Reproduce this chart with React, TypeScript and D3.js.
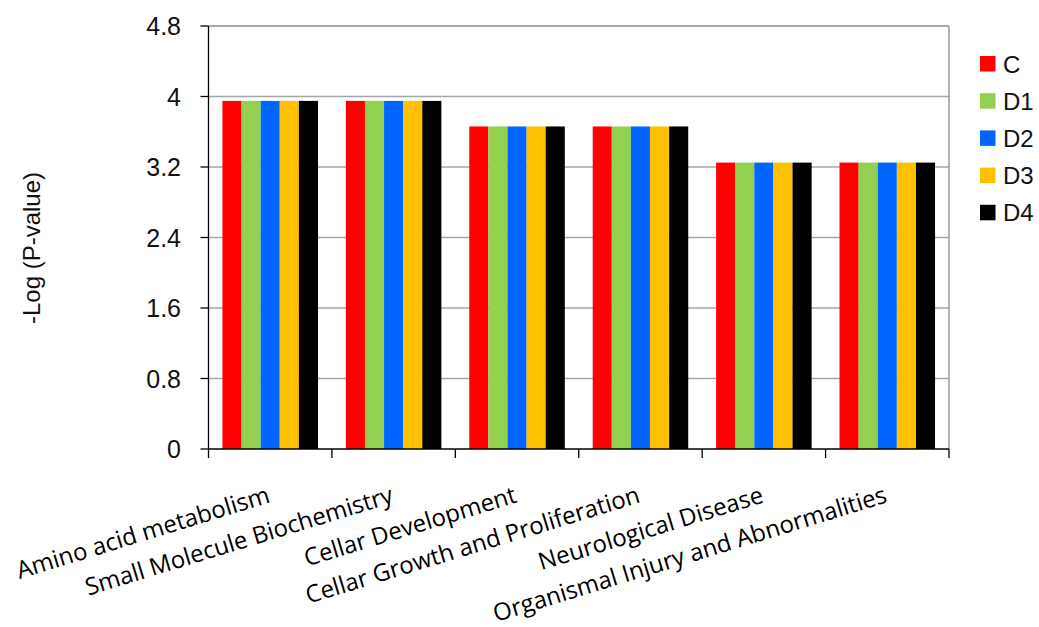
import * as d3 from "d3";

const CATEGORIES = [
  "Amino acid metabolism",
  "Small Molecule Biochemistry",
  "Cellar Development",
  "Cellar Growth and Proliferation",
  "Neurological Disease",
  "Organismal Injury and Abnormalities",
];
const SERIES = ["C", "D1", "D2", "D3", "D4"];
const COLORS = ["#ff0000", "#92d050", "#0066ff", "#ffc000", "#000000"];
const VALUES: number[][] = [
  [3.95, 3.95, 3.95, 3.95, 3.95],
  [3.95, 3.95, 3.95, 3.95, 3.95],
  [3.66, 3.66, 3.66, 3.66, 3.66],
  [3.66, 3.66, 3.66, 3.66, 3.66],
  [3.25, 3.25, 3.25, 3.25, 3.25],
  [3.25, 3.25, 3.25, 3.25, 3.25],
];
const Y_TICKS = [0, 0.8, 1.6, 2.4, 3.2, 4, 4.8];

const W = 1039;
const H = 627;
const plot = { left: 208.5, right: 949, top: 26, bottom: 449 };
const sans = "'Liberation Sans', Arial, sans-serif";
const labelFont = "'Open Sans', 'Noto Sans', sans-serif";

export default function App() {
  const x0 = d3.scaleBand<string>().domain(CATEGORIES).range([plot.left, plot.right]);
  const bw = x0.bandwidth();
  const x1 = d3
    .scaleBand<string>()
    .domain(SERIES)
    .range([bw * 0.113, bw * 0.887]);
  const y = d3.scaleLinear().domain([0, 4.8]).range([plot.bottom, plot.top]);

  const boundaries = CATEGORIES.map((c) => x0(c) as number).concat([plot.right]);

  return (
    <svg
      width={W}
      height={H}
      style={{ position: "absolute", left: 0, top: 0, background: "#fff" }}
    >
      {/* gridlines */}
      {Y_TICKS.filter((t) => t > 0).map((t) => (
        <line
          key={t}
          x1={plot.left}
          x2={plot.right}
          y1={y(t)}
          y2={y(t)}
          stroke={t === 4.8 ? "#8c8c8c" : "#a6a6a6"}
          strokeWidth={1.3}
        />
      ))}
      <line
        x1={plot.right}
        x2={plot.right}
        y1={plot.top}
        y2={plot.bottom}
        stroke="#8c8c8c"
        strokeWidth={1.3}
      />

      {/* bars */}
      {CATEGORIES.map((c, ci) => (
        <g key={c} transform={`translate(${x0(c)},0)`}>
          {SERIES.map((s, si) => (
            <rect
              key={s}
              x={x1(s)}
              y={y(VALUES[ci][si])}
              width={x1.bandwidth()}
              height={plot.bottom - y(VALUES[ci][si])}
              fill={COLORS[si]}
            />
          ))}
        </g>
      ))}

      {/* y axis */}
      <line x1={plot.left} x2={plot.left} y1={plot.top} y2={plot.bottom} stroke="#000" strokeWidth={1.3} />
      {Y_TICKS.map((t) => (
        <g key={t}>
          <line x1={plot.left - 8} x2={plot.left} y1={y(t)} y2={y(t)} stroke="#000" strokeWidth={1.3} />
          <text
            x={181}
            y={y(t)}
            dy="0.36em"
            textAnchor="end"
            fontFamily={sans}
            fontSize={25}
            fill="#111"
          >
            {t}
          </text>
        </g>
      ))}

      {/* x axis */}
      <line x1={plot.left} x2={plot.right} y1={plot.bottom} y2={plot.bottom} stroke="#000" strokeWidth={1.3} />
      {boundaries.map((bx, i) => (
        <line key={i} x1={bx} x2={bx} y1={plot.bottom} y2={plot.bottom + 9} stroke="#000" strokeWidth={1.3} />
      ))}
      {CATEGORIES.map((c) => (
        <text
          key={c}
          transform={`translate(${(x0(c) as number) + bw / 2 + 1},${502}) rotate(-17)`}
          textAnchor="end"
          fontFamily={labelFont}
          fontSize={24}
          fill="#000"
        >
          {c}
        </text>
      ))}

      {/* y title */}
      <text
        transform={`translate(40,${248}) rotate(-90)`}
        textAnchor="middle"
        fontFamily={sans}
        fontSize={24}
        fill="#111"
      >
        -Log (P-value)
      </text>

      {/* legend */}
      {SERIES.map((s, i) => (
        <g key={s} transform={`translate(980,${64 + i * 37.2})`}>
          <rect x={0} y={-8} width={15.5} height={15.5} fill={COLORS[i]} />
          <text x={23} y={0} dy="0.36em" fontFamily={sans} fontSize={24} fill="#111">
            {s}
          </text>
        </g>
      ))}
    </svg>
  );
}
